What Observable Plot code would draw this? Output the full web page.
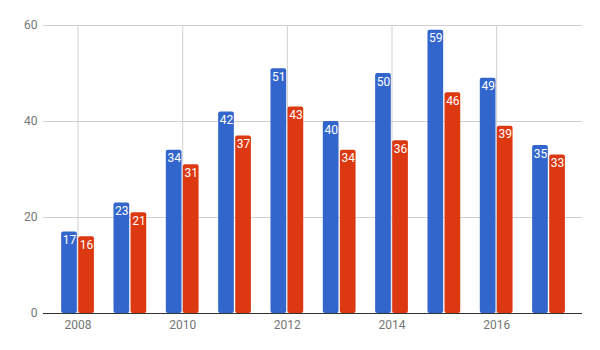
<!DOCTYPE html>
<html><head><meta charset="utf-8">
<script src="https://cdn.jsdelivr.net/npm/d3@7"></script>
<script src="https://cdn.jsdelivr.net/npm/@observablehq/plot@0.6"></script>
<style>
html,body{margin:0;padding:0;background:#fff;}
</style>
</head><body>
<div id="chart"></div>
<script>
const years = [2008, 2009, 2010, 2011, 2012, 2013, 2014, 2015, 2016, 2017];
const seriesA = [17, 23, 34, 42, 51, 40, 50, 59, 49, 35];
const seriesB = [16, 21, 31, 37, 43, 34, 36, 46, 39, 33];
const yTicks = [0, 20, 40, 60];
const xTicks = [2008, 2010, 2012, 2014, 2016];

const rows = [];
years.forEach((yr, i) => {
  rows.push({year: yr, series: "A", value: seriesA[i], off: -1});
  rows.push({year: yr, series: "B", value: seriesB[i], off: 1});
});

const halfGap = 0.013, barW = 0.3;
const chart = Plot.plot({
  width: 600,
  height: 350,
  marginLeft: 43,
  marginRight: 18,
  marginTop: 25,
  marginBottom: 37,
  style: {fontFamily: "Roboto, sans-serif", fontSize: "12px", color: "#757575", background: "#fff"},
  x: {domain: [2007.34, 2017.64], ticks: xTicks, tickFormat: d => String(d), tickSize: 0, tickPadding: 7, label: null},
  y: {domain: [0, 60], ticks: yTicks, tickSize: 0, tickPadding: 6, label: null},
  color: {domain: ["A", "B"], range: ["#3366cc", "#dc3912"]},
  marks: [
    Plot.gridY(yTicks, {stroke: "#d0d0d0", strokeOpacity: 1}),
    Plot.gridX(xTicks, {stroke: "#d0d0d0", strokeOpacity: 1}),
    Plot.rect(rows, {
      x1: d => d.off < 0 ? d.year - halfGap - barW : d.year + halfGap,
      x2: d => d.off < 0 ? d.year - halfGap : d.year + halfGap + barW,
      y1: 0, y2: "value", fill: "series", rx: 2
    }),
    Plot.text(rows, {
      x: d => d.year + d.off * (halfGap + barW / 2),
      y: "value", text: d => String(d.value), fill: "white",
      lineAnchor: "top", dy: 3.5, fontSize: 12
    }),
    Plot.ruleY([0], {stroke: "#333333"}),
    Plot.axisX({ticks: xTicks, tickFormat: d => String(d), tickSize: 0, tickPadding: 7, fill: "#757575", label: null}),
    Plot.axisY({ticks: yTicks, tickSize: 0, tickPadding: 6, fill: "#757575", label: null})
  ]
});
document.getElementById("chart").appendChild(chart);
</script>
</body></html>
